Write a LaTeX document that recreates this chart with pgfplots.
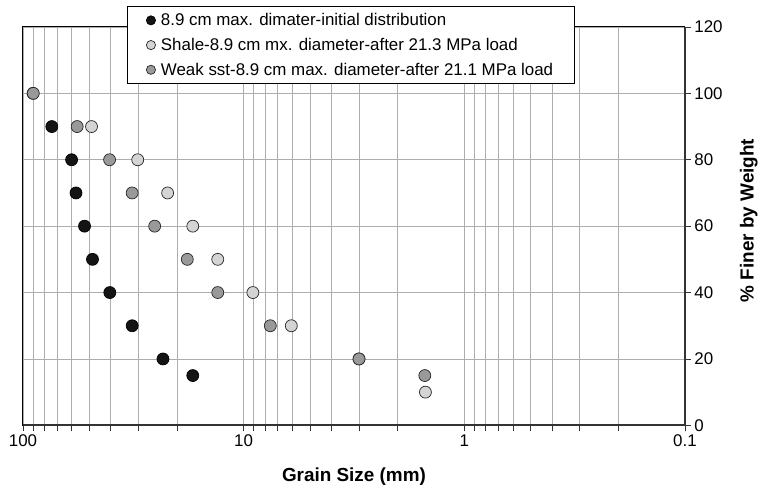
\documentclass[border=0pt]{standalone}
\usepackage{pgfplots}
\pgfplotsset{compat=1.18}
\usepackage{fontspec}
\setmainfont{Liberation Sans}
\definecolor{gridc}{gray}{0.68}
\definecolor{lightpt}{gray}{0.83}
\definecolor{midpt}{gray}{0.60}
\definecolor{darkpt}{gray}{0.08}
\begin{document}
\begin{tikzpicture}
\begin{axis}[
  scale only axis, width=663bp, height=399bp,
  xmode=log, x dir=reverse, xmin=0.1, xmax=100,
  ymin=0, ymax=120, ytick={0,20,...,120},
  xtick={0.1,1,10,100}, xticklabels={0.1,1,10,100},
  yticklabel pos=right, ytick pos=right, xtick pos=bottom,
  grid=both,
  major grid style={gridc, line width=0.9bp},
  minor grid style={gridc, line width=0.9bp},
  tick align=outside, major tick length=6bp, minor tick length=6bp,
  tick style={black!80, line width=0.9bp},
  axis line style={black, line width=1bp},
  tick label style={font=\fontsize{17}{20}\selectfont},
  /pgf/number format/assume math mode=true,
  xlabel={Grain Size (mm)}, ylabel={\% Finer by Weight},
  every axis x label/.style={at={(axis description cs:0.5,-0.128)}, anchor=center, font=\bfseries\fontsize{19}{22}\selectfont},
  every axis y label/.style={at={(axis description cs:1.0965,0.514)}, rotate=90, anchor=center, font=\bfseries\fontsize{19}{22}\selectfont},
  legend style={at={(axis description cs:0.157,1.0526)}, anchor=north west, draw=black, line width=1bp,
    font=\fontsize{17}{20}\selectfont, inner xsep=19bp, inner ysep=5bp, row sep=7bp, fill=white},
  legend cell align=left,
  legend image code/.code={\draw[#1, mark size=4.6bp] plot coordinates {(0bp,0bp)}; \path[draw=none, fill=none] (0bp,0bp) rectangle (8bp,0.1bp);},
  clip=false,
]
\addplot[only marks, mark=*, mark size=6bp, mark options={fill=darkpt, draw=black, line width=0.7bp}]
  coordinates {(74,90) (60.2,80) (57.5,70) (52.6,60) (48.4,50) (40.4,40) (32,30) (23.2,20) (17,15)};
\addlegendentry{8.9 cm max. dimater-initial distribution}
\addplot[only marks, mark=*, mark size=6bp, mark options={fill=lightpt, draw=black!85, line width=0.7bp}]
  coordinates {(90,100) (48.9,90) (30.2,80) (22.1,70) (17,60) (13.1,50) (9.08,40) (6.08,30) (3.0,20) (1.5,10)};
\addlegendentry{Shale-8.9 cm mx. diameter-after 21.3 MPa load}
\addplot[only marks, mark=*, mark size=6bp, mark options={fill=midpt, draw=black!85, line width=0.7bp}]
  coordinates {(89.8,100) (56.8,90) (40.5,80) (32,70) (25.3,60) (18,50) (13.1,40) (7.57,30) (3.0,20) (1.51,15)};
\addlegendentry{Weak sst-8.9 cm max. diameter-after 21.1 MPa load}
\draw[black!80, line width=2bp] (rel axis cs:0,0) -- (rel axis cs:1,0) -- (rel axis cs:1,1);
\end{axis}
\path ([shift={(-23bp,-62bp)}]current axis.south west) rectangle ([shift={(75bp,27bp)}]current axis.north east);
\end{tikzpicture}
\end{document}
